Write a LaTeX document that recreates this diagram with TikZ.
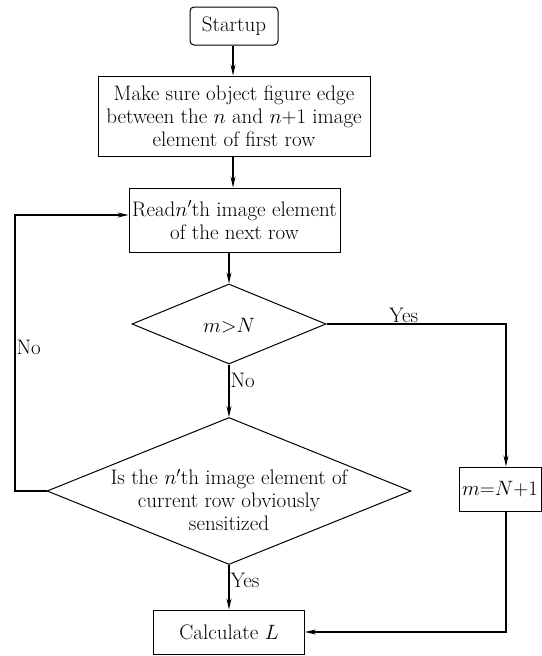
\documentclass[tikz,border=0pt]{standalone}
\usetikzlibrary{shapes.geometric,arrows.meta}
\begin{document}
\begin{tikzpicture}[x=1pt,y=-1pt,
  every node/.style={font=\fontsize{21}{23}\selectfont},
  boxnode/.style={draw,line width=1pt,inner sep=0pt,align=center},
  dia/.style={draw,diamond,line width=1pt,inner sep=0pt},
  lbl/.style={draw=none,inner sep=1pt},
  conn/.style={line width=1.1pt,-{Stealth[length=11pt,width=5pt]}},
  plain/.style={line width=1.1pt}]
\useasboundingbox (0,0) rectangle (541,656);
\node[boxnode,rounded corners=4pt,minimum width=88pt,minimum height=38pt] (start) at (234,26) {Startup};
\node[boxnode,minimum width=272pt,minimum height=80pt] (b2) at (234,116) {Make sure object figure edge\\between the $n$ and $n{+}1$ image\\element of first row};
\node[boxnode,minimum width=211pt,minimum height=64pt] (b3) at (234.5,220) {Read$n'$th image element\\of the next row};
\node[dia,minimum width=194pt,minimum height=80pt] (d1) at (229,324) {};
\node[lbl] (d1t) at (229,326) {$m{>}N$};
\node[dia,minimum width=364pt,minimum height=147pt] (d2) at (229,491) {};
\node[lbl,align=center] (d2t) at (229,500) {Is the $n'$th image element of\\current row obviously\\sensitized};
\node[boxnode,minimum width=151pt,minimum height=44pt] (calc) at (229,632) {Calculate $L$};
\node[boxnode,minimum width=82pt,minimum height=44pt] (mbox) at (500,489) {$m{=}N{+}1$};
\coordinate (yc) at (506,324);
\coordinate (mc) at (506,632);
\coordinate (lc1) at (15,491);
\coordinate (lc2) at (15,215);
\draw[conn] (start.south -| 233,0) -- (b2.north -| 233,0);
\draw[conn] (b2.south -| 233,0) -- (b3.north -| 233,0);
\draw[conn] (b3.south -| d1.north) -- (d1.north);
\draw[conn] (d1.south) -- node[lbl,right,pos=0.3] (no1) {No} (d2.north);
\draw[conn] (d2.south) -- node[lbl,right,pos=0.35] (yes2) {Yes} (calc.north);
\draw[conn] (d1.east) -- node[lbl,above,pos=0.43] (yes1) {Yes} (yc) -- (mbox.north -| yc);
\draw[conn] (mbox.south -| mc) -- (mc) -- (calc.east);
\draw[conn] (d2.west) -- (lc1) -- node[lbl,right,pos=0.52] (no2) {No} (lc2) -- (b3.west |- lc2);
\end{tikzpicture}
\end{document}
